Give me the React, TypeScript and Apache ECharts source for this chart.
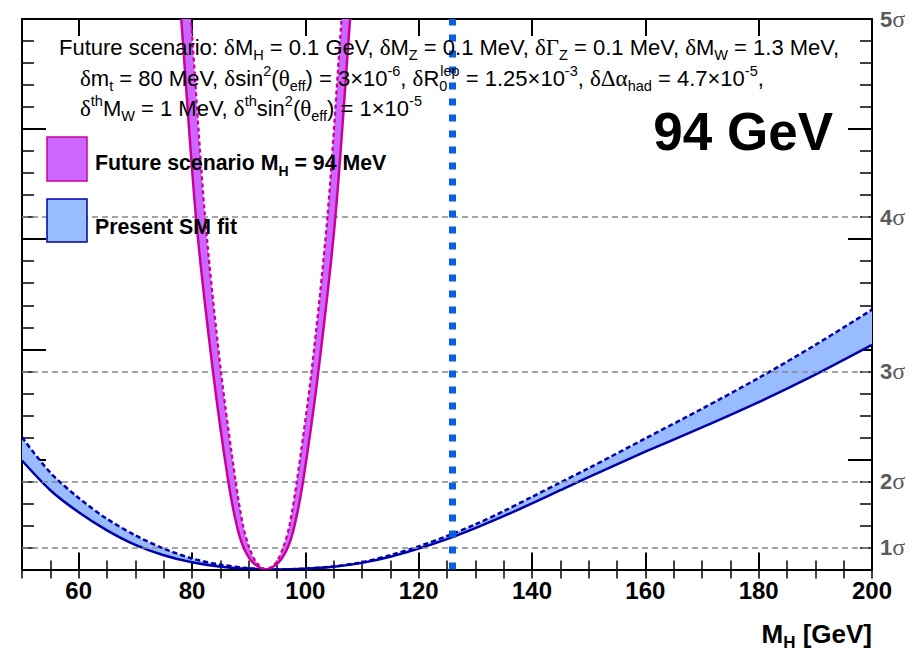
import React, { useEffect, useRef } from 'react';
import * as echarts from 'echarts';

// ---- data ----
const massGrid = [50, 55, 60, 65, 70, 75, 80, 85, 90, 95, 100, 105, 110, 115, 120, 125, 130, 135, 140, 145, 150, 160, 170, 180, 190, 200];
const smFitLower = [4.95, 3.6, 2.6, 1.78, 1.12, 0.65, 0.33, 0.13, 0.03, 0, 0.03, 0.12, 0.3, 0.58, 0.95, 1.38, 1.88, 2.42, 3.0, 3.6, 4.2, 5.35, 6.45, 7.6, 8.85, 10.2];
const smFitUpper = [6.0, 4.4, 3.25, 2.3, 1.55, 0.95, 0.5, 0.22, 0.06, 0, 0.04, 0.14, 0.33, 0.65, 1.05, 1.52, 2.05, 2.65, 3.3, 3.95, 4.6, 5.95, 7.3, 8.7, 10.2, 11.8];

const futureSolidMass = [77.2, 78.1, 80.7, 83.7, 86.4, 87.9, 89.1, 90.8, 93.0, 95.2, 96.9, 98.1, 99.6, 102.3, 105.3, 107.9, 108.8];
const futureSolidChi2 = [28, 25, 16, 9, 4, 2, 1, 0.3, 0, 0.3, 1, 2, 4, 9, 16, 25, 28];
const futureDashedMass = [78.8, 79.8, 82.3, 85.1, 87.7, 89.0, 90.1, 91.4, 93.1, 94.8, 96.1, 97.2, 98.5, 101.1, 103.9, 106.4, 107.4];
const futureDashedChi2 = [28, 25, 16, 9, 4, 2, 1, 0.3, 0, 0.3, 1, 2, 4, 9, 16, 25, 28];

const sigmaLevels = [1, 4, 9, 16];
const sigmaLabelValues = [1, 4, 9, 16, 25];
const xMajorTicks = [60, 80, 100, 120, 140, 160, 180, 200];
const higgsMass = 126;

const SANS = 'Liberation Sans, Arial, Helvetica, sans-serif';
const SERIF = 'Liberation Serif, Times New Roman, serif';

export default function App() {
  const ref = useRef<HTMLDivElement>(null);
  useEffect(() => {
    document.body.style.margin = '0';
    const chart = echarts.init(ref.current!, null, { renderer: 'svg' });

    const lowerPairs = massGrid.map((m, i) => [m, smFitLower[i]]);
    const upperPairs = massGrid.map((m, i) => [m, smFitUpper[i]]);
    const solidPts = futureSolidMass.map((m, i) => [m, futureSolidChi2[i]]);
    const dashedPts = futureDashedMass.map((m, i) => [m, futureDashedChi2[i]]);

    const magenta = '#cc0099';
    const violet = '#cc66ff';
    const navy = '#0000aa';
    const lightBlue = '#99bbff';

    const hdr = {
      n: { fontFamily: SANS, fontSize: 22, lineHeight: 30, verticalAlign: 'middle', color: '#000' },
      g: { fontFamily: SERIF, fontSize: 23, lineHeight: 30, verticalAlign: 'middle', color: '#000' },
      sub: { fontFamily: SANS, fontSize: 14.5, lineHeight: 14, verticalAlign: 'bottom', color: '#000' },
      sub0: { fontFamily: SANS, fontSize: 14.5, lineHeight: 14, verticalAlign: 'bottom', color: '#000', width: 1 },
      sup: { fontFamily: SANS, fontSize: 14.5, lineHeight: 14, verticalAlign: 'top', color: '#000' },
    };
    const bold = {
      b: { fontFamily: SANS, fontSize: 21.3, fontWeight: 'bold', lineHeight: 30, verticalAlign: 'middle', color: '#000' },
      bs: { fontFamily: SANS, fontSize: 14, fontWeight: 'bold', lineHeight: 14, verticalAlign: 'bottom', color: '#000' },
    };
    const boldT = {
      b: { fontFamily: SANS, fontSize: 26, fontWeight: 'bold', lineHeight: 34, verticalAlign: 'middle', color: '#000' },
      bs: { fontFamily: SANS, fontSize: 17, fontWeight: 'bold', lineHeight: 17, verticalAlign: 'bottom', color: '#000' },
    };

    const minorX = (position: string) => ({
      type: 'value', min: 50, max: 200, interval: 5, position,
      axisLine: { show: false },
      axisTick: { show: true, inside: true, length: 9, lineStyle: { color: '#000', width: 1.5 } },
      axisLabel: { show: false }, splitLine: { show: false },
    });
    const majorX = (position: string, labels: boolean) => ({
      type: 'value', min: 50, max: 200, position,
      axisLine: { show: true, onZero: false, lineStyle: { color: '#000', width: 2 } },
      axisTick: { show: true, inside: true, length: 17, customValues: xMajorTicks, lineStyle: { color: '#000', width: 2 } },
      axisLabel: labels
        ? { show: true, customValues: xMajorTicks, fontFamily: SANS, fontWeight: 'bold', fontSize: 24, color: '#000', margin: 9 }
        : { show: false },
      splitLine: { show: false },
    });
    const frameY = (position: string) => ({
      type: 'value', min: 0, max: 25, interval: 5, position,
      axisLine: { show: true, onZero: false, lineStyle: { color: '#000', width: 2 } },
      axisTick: { show: true, inside: true, length: 24, lineStyle: { color: '#000', width: 2 } },
      minorTick: { show: true, splitNumber: 5, length: 12, lineStyle: { color: '#000', width: 1.5 } },
      axisLabel: { show: false }, splitLine: { show: false }, minorSplitLine: { show: false },
    });

    const option: any = {
      animation: false,
      grid: { left: 22, right: 46, top: 19, bottom: 83.5, containLabel: false },
      xAxis: [majorX('bottom', true), minorX('bottom'), majorX('top', false), minorX('top')],
      yAxis: [
        frameY('left'),
        frameY('right'),
        {
          type: 'value', min: 0, max: 25, interval: 1, position: 'right',
          axisLine: { show: false }, axisTick: { show: false }, splitLine: { show: false },
          axisLabel: {
            show: true, margin: 8,
            formatter: (v: number) => (sigmaLabelValues.includes(v) ? `{d|${Math.round(Math.sqrt(v))}}{s|σ}` : ''),
            rich: {
              d: { fontFamily: SANS, fontWeight: 'bold', fontSize: 22, color: '#5a5a5a' },
              s: { fontFamily: SERIF, fontSize: 24, color: '#5a5a5a' },
            },
          },
        },
      ],
      series: [
        {
          type: 'line', data: [], z: 1, silent: true,
          markLine: {
            silent: true, symbol: 'none', label: { show: false },
            lineStyle: { color: '#888', width: 1.5, type: [6, 4] },
            data: sigmaLevels.map((v) => ({ yAxis: v })),
          },
        },
        {
          type: 'custom', z: 3, clip: true, silent: true,
          data: [[95, 0]],
          renderItem: (_params: any, api: any) => {
            const up = upperPairs.map((p) => api.coord(p));
            const lo = lowerPairs.map((p) => api.coord(p));
            const loRev = lo.slice().reverse();
            // corner points repeated so the smoothed outline keeps to the curves at the ends
            const poly = [up[0], ...up, up[up.length - 1], loRev[0], ...loRev, loRev[loRev.length - 1]];
            return {
              type: 'group',
              children: [
                { type: 'polygon', shape: { points: poly, smooth: 0.3 }, style: { fill: lightBlue, stroke: null } },
                { type: 'polyline', shape: { points: up, smooth: 0.3 }, style: { stroke: navy, lineWidth: 2.5, lineDash: [5, 3], fill: null } },
                { type: 'polyline', shape: { points: lo, smooth: 0.3 }, style: { stroke: navy, lineWidth: 2.5, fill: null } },
              ],
            };
          },
        },
        {
          type: 'custom', z: 5, clip: true, silent: true,
          data: [[93, 0]],
          renderItem: (_params: any, api: any) => {
            const s = solidPts.map((p) => api.coord(p));
            const d = dashedPts.map((p) => api.coord(p));
            const poly = s.concat(d.slice().reverse());
            return {
              type: 'group',
              children: [
                { type: 'polygon', shape: { points: poly, smooth: 0.3 }, style: { fill: violet, stroke: null } },
                { type: 'polyline', shape: { points: d, smooth: 0.3 }, style: { stroke: magenta, lineWidth: 2.3, lineDash: [4, 3], fill: null } },
                { type: 'polyline', shape: { points: s, smooth: 0.3 }, style: { stroke: magenta, lineWidth: 2.5, fill: null } },
              ],
            };
          },
        },
        {
          type: 'line', data: [], z: 8, silent: true,
          markLine: {
            silent: true, symbol: 'none', label: { show: false },
            lineStyle: { color: '#0a5fe0', width: 7, type: [7, 9] },
            data: [{ xAxis: higgsMass }],
          },
        },
      ],
      graphic: [
        {
          type: 'text', x: 59, y: 47, z: 20,
          style: {
            text: '{n|Future scenario: }{g|δ}{n|M}{sub|H}{n| = 0.1 GeV, }{g|δ}{n|M}{sub|Z}{n| = 0.1 MeV, }{g|δΓ}{sub|Z}{n| = 0.1 MeV, }{g|δ}{n|M}{sub|W}{n| = 1.3 MeV,}',
            rich: hdr, verticalAlign: 'middle', align: 'left',
          },
        },
        {
          type: 'text', x: 80, y: 78, z: 20,
          style: {
            text: '{g|δ}{n|m}{sub|t}{n| = 80 MeV, }{g|δ}{n|sin}{sup|2}{n|(}{g|θ}{sub|eff}{n|) = 3×10}{sup|-6}{n|, }{g|δ}{n|R}{sub0|0}{sup|lep}{n| = 1.25×10}{sup|-3}{n|, }{g|δΔα}{sub|had}{n| = 4.7×10}{sup|-5}{n|,}',
            rich: hdr, verticalAlign: 'middle', align: 'left',
          },
        },
        {
          type: 'text', x: 80, y: 108, z: 20,
          style: {
            text: '{g|δ}{sup|th}{n|M}{sub|W}{n| = 1 MeV, }{g|δ}{sup|th}{n|sin}{sup|2}{n|(}{g|θ}{sub|eff}{n|) = 1×10}{sup|-5}',
            rich: hdr, verticalAlign: 'middle', align: 'left',
          },
        },
        {
          type: 'text', x: 833, y: 131, z: 20,
          style: { text: '94 GeV', fontFamily: SANS, fontWeight: 'bold', fontSize: 53, fill: '#000', align: 'right', verticalAlign: 'middle' },
        },
        {
          type: 'rect', z: 20, shape: { x: 47, y: 137, width: 40, height: 44 },
          style: { fill: violet, stroke: magenta, lineWidth: 1.5 },
        },
        {
          type: 'rect', z: 20, shape: { x: 47, y: 199, width: 40, height: 43 },
          style: { fill: lightBlue, stroke: navy, lineWidth: 1.5 },
        },
        {
          type: 'text', x: 95, y: 163, z: 20,
          style: { text: '{b|Future scenario M}{bs|H}{b| = 94 MeV}', rich: bold, verticalAlign: 'middle', align: 'left' },
        },
        {
          type: 'text', x: 95, y: 227, z: 20,
          style: { text: '{b|Present SM fit}', rich: bold, verticalAlign: 'middle', align: 'left' },
        },
        {
          type: 'text', x: 872, y: 634, z: 20,
          style: { text: '{b|M}{bs|H}{b| [GeV]}', rich: boldT, verticalAlign: 'middle', align: 'right' },
        },
      ],
    };
    chart.setOption(option);
    return () => chart.dispose();
  }, []);
  return <div ref={ref} style={{ width: 918, height: 653 }} />;
}
